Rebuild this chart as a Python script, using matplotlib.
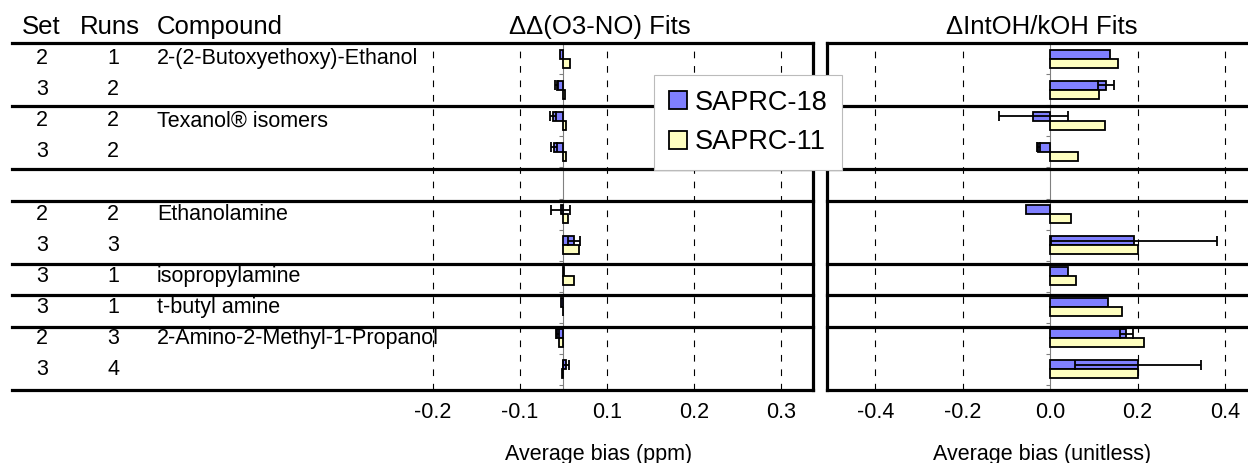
import numpy as np
import matplotlib
matplotlib.use("Agg")
import matplotlib.pyplot as plt
from matplotlib.patches import Patch

plt.rcParams["font.family"] = ["Liberation Sans", "DejaVu Sans"]

nan = np.nan
SETS = ["2", "3", "2", "3", "", "2", "3", "3", "3", "2", "3"]
RUNS = ["1", "2", "2", "2", "", "2", "3", "1", "1", "3", "4"]
COMPOUNDS = ["2-(2-Butoxyethoxy)-Ethanol", "", "Texanol\u00ae isomers", "", "",
             "Ethanolamine", "", "isopropylamine", "t-butyl amine",
             "2-Amino-2-Methyl-1-Propanol", ""]

# DD(O3-NO) average bias, ppm
O3NO_S18 = [-0.004, -0.008, -0.012, -0.011, nan, -0.003, 0.012, 0.0005, -0.003, -0.007, 0.003]
O3NO_S18_ERR = [0, 0.0015, 0.0038, 0.0035, nan, 0.011, 0.007, 0, 0, 0.002, 0.0035]
O3NO_S11 = [0.008, 0.002, 0.003, 0.003, nan, 0.005, 0.018, 0.0126, -0.001, -0.0055, -0.002]

# DIntOH/kOH average bias, unitless
INTOH_S18 = [0.137, 0.128, -0.039, -0.027, nan, -0.055, 0.192, 0.040, 0.133, 0.174, 0.200]
INTOH_S18_ERR = [0, 0.018, 0.079, 0.003, nan, 0, 0.19, 0, 0, 0.015, 0.144]
INTOH_S11 = [0.156, 0.112, 0.125, 0.064, nan, 0.048, 0.200, 0.058, 0.165, 0.215, 0.200]

# left panel ticks (labels as printed on the original chart)
L_TICKS = [-0.15, -0.05, 0.05, 0.15, 0.25]
L_LABELS = ["-0.2", "-0.1", "0.1", "0.2", "0.3"]
R_TICKS = [-0.4, -0.2, 0.0, 0.2, 0.4]
R_LABELS = ["-0.4", "-0.2", "0.0", "0.2", "0.4"]

BLUE = "#8080FF"
YELLOW = "#FFFFC0"
SEPARATORS = [2, 4, 5, 7, 8, 9]
FS = 15.5      # body text
FS_HEAD = 18.5  # header and panel titles

W, H = 1248, 463
fig = plt.figure(figsize=(W / 100, H / 100), dpi=100)


def px_axes(x0, x1, y0, y1):
    return fig.add_axes([x0 / W, 1 - y1 / H, (x1 - x0) / W, (y1 - y0) / H])


def frame(ax, sides):
    kw = dict(transform=ax.transAxes, color="black", lw=2.3, clip_on=False,
              solid_capstyle="projecting", zorder=6)
    if "top" in sides:
        ax.plot([0, 1], [1, 1], **kw)
    if "bottom" in sides:
        ax.plot([0, 1], [0, 0], **kw)
    if "left" in sides:
        ax.plot([0, 0], [0, 1], **kw)
    if "right" in sides:
        ax.plot([1, 1], [0, 1], **kw)
    for k in SEPARATORS:
        y = 1 - k / 11
        ax.plot([0, 1], [y, y], transform=ax.transAxes, color="black", lw=2.3,
                clip_on=False, zorder=6)


def panel(ax, s18, s18err, s11, xlim, grid, ticks, labels):
    cats = np.arange(len(s18))
    ax.set_xlim(*xlim)
    ax.set_ylim(-0.5 + 347 / 31.07, -0.5)
    for g in grid:
        ax.axvline(g, color="black", lw=0.8, ls=(0, (6, 7)), zorder=1)
    ax.barh(cats - 0.145, s18, height=0.29, color=BLUE, edgecolor="black", lw=1.3, zorder=3)
    ax.barh(cats + 0.145, s11, height=0.29, color=YELLOW, edgecolor="black", lw=1.3, zorder=3)
    err = np.array(s18err)
    m = np.nan_to_num(err) > 0
    ax.errorbar(np.array(s18)[m], (cats - 0.145)[m], xerr=err[m], fmt="none",
                ecolor="black", elinewidth=1.3, capsize=3.6, capthick=1.3, zorder=4)
    for s in ["top", "right", "bottom"]:
        ax.spines[s].set_visible(False)
    ax.spines["left"].set_position(("data", 0))
    ax.spines["left"].set_color("gray")
    ax.spines["left"].set_linewidth(0.8)
    ax.set_yticks(np.arange(-0.5, 11, 1))
    ax.set_yticklabels([])
    ax.tick_params(axis="y", length=3, color="gray", direction="out")
    ax.set_xticks(ticks)
    ax.set_xticklabels(labels, fontsize=FS)
    ax.tick_params(axis="x", length=0, pad=9)
    ax.set_facecolor("none")


axL = px_axes(12, 813, 43.3, 390)
axR = px_axes(826.5, 1248, 43.3, 390)

panel(axL, O3NO_S18, O3NO_S18_ERR, O3NO_S11, (-0.6337, 0.2867),
      L_TICKS, L_TICKS, L_LABELS)
panel(axR, INTOH_S18, INTOH_S18_ERR, INTOH_S11, (-0.512, 0.4526),
      [-0.4, -0.2, 0.2, 0.4], R_TICKS, R_LABELS)
frame(axL, ["top", "bottom", "right"])
frame(axR, ["top", "bottom", "left"])

axL.set_xlabel("Average bias (ppm)", fontsize=FS)
axL.xaxis.set_label_coords((599 - 12) / 801, -0.155)
axR.set_xlabel("Average bias (unitless)", fontsize=FS)
axR.xaxis.set_label_coords((1042 - 826.5) / 421.5, -0.155)

# table columns inside the left panel
tr = axL.get_yaxis_transform()
for i in range(len(SETS)):
    axL.text((42 - 12) / 801, i, SETS[i], transform=tr, ha="center", va="center", fontsize=FS)
    axL.text((113 - 12) / 801, i, RUNS[i], transform=tr, ha="center", va="center", fontsize=FS)
    axL.text((157 - 12) / 801, i, COMPOUNDS[i], transform=tr, ha="left", va="center", fontsize=FS)

hy = 1 - 34 / H
fig.text(22 / W, hy, "Set", fontsize=FS_HEAD, va="baseline")
fig.text(80 / W, hy, "Runs", fontsize=FS_HEAD, va="baseline")
fig.text(157 / W, hy, "Compound", fontsize=FS_HEAD, va="baseline")
fig.text(600 / W, hy, "\u0394\u0394(O3-NO) Fits", fontsize=FS_HEAD, va="baseline", ha="center")
fig.text(1042 / W, hy, "\u0394IntOH/kOH Fits", fontsize=FS_HEAD, va="baseline", ha="center")

handles = [Patch(facecolor=BLUE, edgecolor="black", lw=1.3, label="SAPRC-18"),
           Patch(facecolor=YELLOW, edgecolor="black", lw=1.3, label="SAPRC-11")]
leg = fig.legend(handles=handles, loc="upper left", bbox_to_anchor=(654 / W, 1 - 75 / H),
                 fontsize=19.5, frameon=True, fancybox=False, edgecolor="#bbbbbb",
                 framealpha=1, borderpad=0.55, labelspacing=0.5, handlelength=0.65,
                 handleheight=0.65, handletextpad=0.3, borderaxespad=0)
leg.get_frame().set_linewidth(0.8)
leg.set_zorder(10)

fig.savefig("out.png", dpi=100)
